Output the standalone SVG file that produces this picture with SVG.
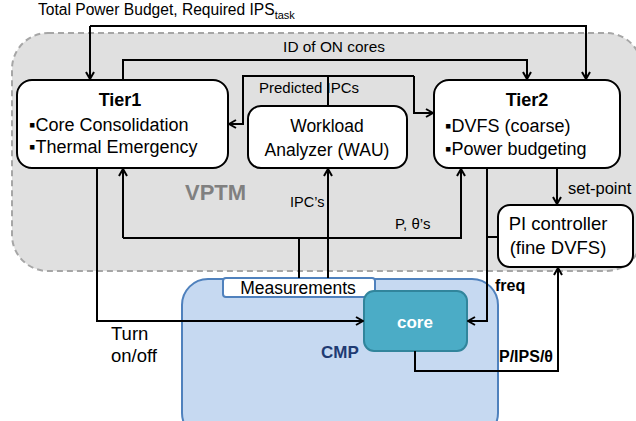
<svg xmlns="http://www.w3.org/2000/svg" width="636" height="421" viewBox="0 0 636 421">
<defs>
<style>
text{font-family:"Liberation Sans",Arial,sans-serif;fill:#000}
.t{font-size:16px}
.L{font-size:18px}
.b{font-weight:bold}
.box{fill:#fff;stroke:#000;stroke-width:2}
.c{fill:none;stroke:#000;stroke-width:2}
.m{text-anchor:middle}
</style>
<marker id="arr" viewBox="0 0 10 10" refX="9" refY="5" markerWidth="10" markerHeight="10" markerUnits="userSpaceOnUse" orient="auto"><path d="M2,1 L9,5 L2,9" fill="none" stroke="#000" stroke-width="2"/></marker>
</defs>
<rect width="636" height="421" fill="#fff"/>
<g id="vptm">
<rect x="12" y="33" width="630" height="238" rx="36" fill="#e0e0e0" stroke="#a6a6a6" stroke-width="2" stroke-dasharray="6,4"/>
<text x="185" y="200" font-size="22" font-weight="bold" style="fill:#808080">VPTM</text>
</g>
<g id="cmp">
<rect x="182" y="279" width="316" height="160" rx="26" fill="#c6d9f1" stroke="#4f81bd" stroke-width="2"/>
<text x="321" y="358" class="b" font-size="17" style="fill:#1f3b73">CMP</text>
</g>
<g id="measurements">
<rect x="223" y="278" width="152" height="19" rx="3" fill="#fff" stroke="#4f81bd" stroke-width="2"/>
<text x="298" y="294" class="m" font-size="17.5">Measurements</text>
</g>
<g id="core">
<rect x="364" y="291" width="103" height="60" rx="10" fill="#4bacc6" stroke="#31859c" stroke-width="2"/>
<text x="415" y="328" class="b m" font-size="17" style="fill:#fff">core</text>
</g>
<g id="tier1">
<rect x="17" y="80" width="211" height="88" rx="15" class="box"/>
<text x="120" y="106" class="L b m">Tier1</text>
<text x="29" y="131" class="L">▪Core Consolidation</text>
<text x="29" y="153" class="L">▪Thermal Emergency</text>
</g>
<g id="wau">
<rect x="248" y="106" width="159" height="62" rx="13" class="box"/>
<text x="327" y="132" class="m" font-size="17.5">Workload</text>
<text x="327" y="156" class="m" font-size="17.5">Analyzer (WAU)</text>
</g>
<g id="tier2">
<rect x="434" y="80" width="186" height="88" rx="15" class="box"/>
<text x="527" y="106" class="L b m">Tier2</text>
<text x="445" y="132" class="L">▪DVFS (coarse)</text>
<text x="445" y="155" class="L">▪Power budgeting</text>
</g>
<g id="pi">
<rect x="498" y="205" width="135" height="62" rx="12" class="box"/>
<text x="558" y="230" class="m" font-size="18.5">PI controller</text>
<text x="558" y="254" class="m" font-size="18.5">(fine DVFS)</text>
</g>
<g id="connectors">
<path class="c" d="M90,26 V79" marker-end="url(#arr)"/>
<path class="c" d="M90,26 H586 V79" marker-end="url(#arr)"/>
<path class="c" d="M123,80 V60 H527 V79" marker-end="url(#arr)"/>
<path class="c" d="M328,106 V76"/>
<path class="c" d="M414,76 H243 V124 H229" marker-end="url(#arr)"/>
<path class="c" d="M414,76 V113 H433" marker-end="url(#arr)"/>
<path class="c" d="M328,278 V169" marker-end="url(#arr)"/>
<path class="c" d="M299,278 V238"/>
<path class="c" d="M123,238 V169" marker-end="url(#arr)"/>
<path class="c" d="M123,238 H461 V169" marker-end="url(#arr)"/>
<path class="c" d="M97,168 V321 H363" marker-end="url(#arr)"/>
<path class="c" d="M487,168 V321 H468" marker-end="url(#arr)"/>
<path class="c" d="M487,237 H498"/>
<path class="c" d="M557,168 V204" marker-end="url(#arr)"/>
<path class="c" d="M415,351 V371 H558 V268" marker-end="url(#arr)"/>
</g>
<g id="labels">
<text x="38" y="15" font-size="15.6">Total Power Budget, Required IPS<tspan font-size="11" dy="4">task</tspan></text>
<text x="334" y="52" class="m" font-size="15.4">ID of ON cores</text>
<text x="259" y="93" font-size="15">Predicted IPCs</text>
<text x="290" y="207" font-size="14.5">IPC’s</text>
<text x="395" y="229" font-size="15">P, θ’s</text>
<text x="568" y="194" font-size="16.5">set-point</text>
<text x="495" y="291" class="t b">freq</text>
<text x="111" y="340" font-size="18.5">Turn</text>
<text x="111" y="362" font-size="18.5">on/off</text>
<text x="499" y="362" class="t b">P/IPS/θ</text>
</g>
</svg>
